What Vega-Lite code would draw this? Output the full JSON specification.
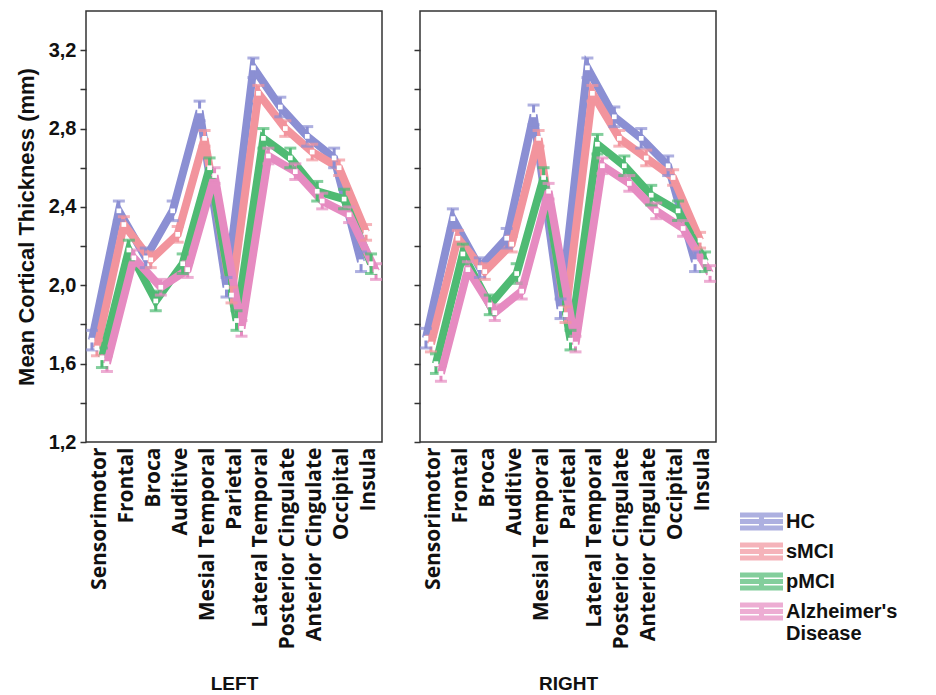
{
"$schema": "https://vega.github.io/schema/vega-lite/v6.json",
"background": "white",
"padding": {"left": 14, "top": 10, "right": 5, "bottom": 5},
"datasets": {"d": [
{"h":"LEFT","r":"Sensorimotor","g":"HC","m":1.72,"lo":1.67,"hi":1.77},
{"h":"LEFT","r":"Frontal","g":"HC","m":2.38,"lo":2.33,"hi":2.43},
{"h":"LEFT","r":"Broca","g":"HC","m":2.14,"lo":2.09,"hi":2.19},
{"h":"LEFT","r":"Auditive","g":"HC","m":2.38,"lo":2.33,"hi":2.43},
{"h":"LEFT","r":"Mesial Temporal","g":"HC","m":2.89,"lo":2.84,"hi":2.94},
{"h":"LEFT","r":"Parietal","g":"HC","m":1.99,"lo":1.94,"hi":2.04},
{"h":"LEFT","r":"Lateral Temporal","g":"HC","m":3.11,"lo":3.06,"hi":3.16},
{"h":"LEFT","r":"Posterior Cingulate","g":"HC","m":2.91,"lo":2.86,"hi":2.96},
{"h":"LEFT","r":"Anterior Cingulate","g":"HC","m":2.76,"lo":2.71,"hi":2.81},
{"h":"LEFT","r":"Occipital","g":"HC","m":2.65,"lo":2.60,"hi":2.70},
{"h":"LEFT","r":"Insula","g":"HC","m":2.12,"lo":2.07,"hi":2.17},
{"h":"LEFT","r":"Sensorimotor","g":"sMCI","m":1.68,"lo":1.64,"hi":1.72},
{"h":"LEFT","r":"Frontal","g":"sMCI","m":2.31,"lo":2.27,"hi":2.35},
{"h":"LEFT","r":"Broca","g":"sMCI","m":2.13,"lo":2.09,"hi":2.17},
{"h":"LEFT","r":"Auditive","g":"sMCI","m":2.26,"lo":2.22,"hi":2.30},
{"h":"LEFT","r":"Mesial Temporal","g":"sMCI","m":2.75,"lo":2.71,"hi":2.79},
{"h":"LEFT","r":"Parietal","g":"sMCI","m":1.95,"lo":1.91,"hi":1.99},
{"h":"LEFT","r":"Lateral Temporal","g":"sMCI","m":2.98,"lo":2.94,"hi":3.02},
{"h":"LEFT","r":"Posterior Cingulate","g":"sMCI","m":2.80,"lo":2.76,"hi":2.84},
{"h":"LEFT","r":"Anterior Cingulate","g":"sMCI","m":2.68,"lo":2.64,"hi":2.72},
{"h":"LEFT","r":"Occipital","g":"sMCI","m":2.60,"lo":2.56,"hi":2.64},
{"h":"LEFT","r":"Insula","g":"sMCI","m":2.27,"lo":2.23,"hi":2.31},
{"h":"LEFT","r":"Sensorimotor","g":"pMCI","m":1.63,"lo":1.58,"hi":1.68},
{"h":"LEFT","r":"Frontal","g":"pMCI","m":2.18,"lo":2.13,"hi":2.23},
{"h":"LEFT","r":"Broca","g":"pMCI","m":1.92,"lo":1.87,"hi":1.97},
{"h":"LEFT","r":"Auditive","g":"pMCI","m":2.11,"lo":2.06,"hi":2.16},
{"h":"LEFT","r":"Mesial Temporal","g":"pMCI","m":2.60,"lo":2.55,"hi":2.65},
{"h":"LEFT","r":"Parietal","g":"pMCI","m":1.82,"lo":1.77,"hi":1.87},
{"h":"LEFT","r":"Lateral Temporal","g":"pMCI","m":2.75,"lo":2.70,"hi":2.80},
{"h":"LEFT","r":"Posterior Cingulate","g":"pMCI","m":2.65,"lo":2.60,"hi":2.70},
{"h":"LEFT","r":"Anterior Cingulate","g":"pMCI","m":2.48,"lo":2.43,"hi":2.53},
{"h":"LEFT","r":"Occipital","g":"pMCI","m":2.44,"lo":2.39,"hi":2.49},
{"h":"LEFT","r":"Insula","g":"pMCI","m":2.11,"lo":2.06,"hi":2.16},
{"h":"LEFT","r":"Sensorimotor","g":"Alzheimer's Disease","m":1.60,"lo":1.56,"hi":1.64},
{"h":"LEFT","r":"Frontal","g":"Alzheimer's Disease","m":2.14,"lo":2.10,"hi":2.18},
{"h":"LEFT","r":"Broca","g":"Alzheimer's Disease","m":1.99,"lo":1.95,"hi":2.03},
{"h":"LEFT","r":"Auditive","g":"Alzheimer's Disease","m":2.08,"lo":2.04,"hi":2.12},
{"h":"LEFT","r":"Mesial Temporal","g":"Alzheimer's Disease","m":2.56,"lo":2.52,"hi":2.60},
{"h":"LEFT","r":"Parietal","g":"Alzheimer's Disease","m":1.78,"lo":1.74,"hi":1.82},
{"h":"LEFT","r":"Lateral Temporal","g":"Alzheimer's Disease","m":2.66,"lo":2.62,"hi":2.70},
{"h":"LEFT","r":"Posterior Cingulate","g":"Alzheimer's Disease","m":2.58,"lo":2.54,"hi":2.62},
{"h":"LEFT","r":"Anterior Cingulate","g":"Alzheimer's Disease","m":2.43,"lo":2.39,"hi":2.47},
{"h":"LEFT","r":"Occipital","g":"Alzheimer's Disease","m":2.36,"lo":2.32,"hi":2.40},
{"h":"LEFT","r":"Insula","g":"Alzheimer's Disease","m":2.07,"lo":2.03,"hi":2.11},
{"h":"RIGHT","r":"Sensorimotor","g":"HC","m":1.73,"lo":1.68,"hi":1.78},
{"h":"RIGHT","r":"Frontal","g":"HC","m":2.34,"lo":2.29,"hi":2.39},
{"h":"RIGHT","r":"Broca","g":"HC","m":2.09,"lo":2.04,"hi":2.14},
{"h":"RIGHT","r":"Auditive","g":"HC","m":2.24,"lo":2.19,"hi":2.29},
{"h":"RIGHT","r":"Mesial Temporal","g":"HC","m":2.87,"lo":2.82,"hi":2.92},
{"h":"RIGHT","r":"Parietal","g":"HC","m":1.88,"lo":1.83,"hi":1.93},
{"h":"RIGHT","r":"Lateral Temporal","g":"HC","m":3.11,"lo":3.06,"hi":3.16},
{"h":"RIGHT","r":"Posterior Cingulate","g":"HC","m":2.86,"lo":2.81,"hi":2.91},
{"h":"RIGHT","r":"Anterior Cingulate","g":"HC","m":2.75,"lo":2.70,"hi":2.80},
{"h":"RIGHT","r":"Occipital","g":"HC","m":2.61,"lo":2.56,"hi":2.66},
{"h":"RIGHT","r":"Insula","g":"HC","m":2.12,"lo":2.07,"hi":2.17},
{"h":"RIGHT","r":"Sensorimotor","g":"sMCI","m":1.70,"lo":1.66,"hi":1.74},
{"h":"RIGHT","r":"Frontal","g":"sMCI","m":2.24,"lo":2.20,"hi":2.28},
{"h":"RIGHT","r":"Broca","g":"sMCI","m":2.07,"lo":2.03,"hi":2.11},
{"h":"RIGHT","r":"Auditive","g":"sMCI","m":2.21,"lo":2.17,"hi":2.25},
{"h":"RIGHT","r":"Mesial Temporal","g":"sMCI","m":2.75,"lo":2.71,"hi":2.79},
{"h":"RIGHT","r":"Parietal","g":"sMCI","m":1.85,"lo":1.81,"hi":1.89},
{"h":"RIGHT","r":"Lateral Temporal","g":"sMCI","m":2.98,"lo":2.94,"hi":3.02},
{"h":"RIGHT","r":"Posterior Cingulate","g":"sMCI","m":2.75,"lo":2.71,"hi":2.79},
{"h":"RIGHT","r":"Anterior Cingulate","g":"sMCI","m":2.65,"lo":2.61,"hi":2.69},
{"h":"RIGHT","r":"Occipital","g":"sMCI","m":2.55,"lo":2.51,"hi":2.59},
{"h":"RIGHT","r":"Insula","g":"sMCI","m":2.23,"lo":2.19,"hi":2.27},
{"h":"RIGHT","r":"Sensorimotor","g":"pMCI","m":1.60,"lo":1.55,"hi":1.65},
{"h":"RIGHT","r":"Frontal","g":"pMCI","m":2.16,"lo":2.11,"hi":2.21},
{"h":"RIGHT","r":"Broca","g":"pMCI","m":1.90,"lo":1.85,"hi":1.95},
{"h":"RIGHT","r":"Auditive","g":"pMCI","m":2.06,"lo":2.01,"hi":2.11},
{"h":"RIGHT","r":"Mesial Temporal","g":"pMCI","m":2.55,"lo":2.50,"hi":2.60},
{"h":"RIGHT","r":"Parietal","g":"pMCI","m":1.72,"lo":1.67,"hi":1.77},
{"h":"RIGHT","r":"Lateral Temporal","g":"pMCI","m":2.72,"lo":2.67,"hi":2.77},
{"h":"RIGHT","r":"Posterior Cingulate","g":"pMCI","m":2.61,"lo":2.56,"hi":2.66},
{"h":"RIGHT","r":"Anterior Cingulate","g":"pMCI","m":2.46,"lo":2.41,"hi":2.51},
{"h":"RIGHT","r":"Occipital","g":"pMCI","m":2.38,"lo":2.33,"hi":2.43},
{"h":"RIGHT","r":"Insula","g":"pMCI","m":2.12,"lo":2.07,"hi":2.17},
{"h":"RIGHT","r":"Sensorimotor","g":"Alzheimer's Disease","m":1.55,"lo":1.51,"hi":1.59},
{"h":"RIGHT","r":"Frontal","g":"Alzheimer's Disease","m":2.08,"lo":2.04,"hi":2.12},
{"h":"RIGHT","r":"Broca","g":"Alzheimer's Disease","m":1.86,"lo":1.82,"hi":1.90},
{"h":"RIGHT","r":"Auditive","g":"Alzheimer's Disease","m":1.97,"lo":1.93,"hi":2.01},
{"h":"RIGHT","r":"Mesial Temporal","g":"Alzheimer's Disease","m":2.48,"lo":2.44,"hi":2.52},
{"h":"RIGHT","r":"Parietal","g":"Alzheimer's Disease","m":1.70,"lo":1.66,"hi":1.74},
{"h":"RIGHT","r":"Lateral Temporal","g":"Alzheimer's Disease","m":2.61,"lo":2.57,"hi":2.65},
{"h":"RIGHT","r":"Posterior Cingulate","g":"Alzheimer's Disease","m":2.52,"lo":2.48,"hi":2.56},
{"h":"RIGHT","r":"Anterior Cingulate","g":"Alzheimer's Disease","m":2.38,"lo":2.34,"hi":2.42},
{"h":"RIGHT","r":"Occipital","g":"Alzheimer's Disease","m":2.29,"lo":2.25,"hi":2.33},
{"h":"RIGHT","r":"Insula","g":"Alzheimer's Disease","m":2.06,"lo":2.02,"hi":2.10}
]},
"data": {"name": "d"},
"config": {
  "font": "Liberation Sans",
  "view": {"stroke": "#333333", "strokeWidth": 1.5},
  "axis": {"grid": false, "domain": false, "labelColor": "#111111", "titleColor": "#111111", "labelFontWeight": "bold", "titleFontWeight": "bold", "tickColor": "#333333", "tickWidth": 1.5},
  "concat": {"spacing": 16}
},
"hconcat": [
{
  "width": 296, "height": 431,
  "transform": [{"filter": "datum.h == 'LEFT'"}],
  "encoding": {
    "x": {"field": "r", "type": "nominal", "sort": ["Sensorimotor","Frontal","Broca","Auditive","Mesial Temporal","Parietal","Lateral Temporal","Posterior Cingulate","Anterior Cingulate","Occipital","Insula"], "scale": {"type": "point", "padding": 0.5}, "axis": {"title": "LEFT", "labelAngle": -90, "labelAlign": "right", "labelBaseline": "middle", "ticks": false, "labelFont": "Open Sans", "labelFontSize": 21, "labelPadding": 5, "titleFontSize": 19, "titlePadding": 32, "labelLimit": 300}},
    "xOffset": {"field": "g", "type": "nominal", "sort": ["HC","sMCI","pMCI","Alzheimer's Disease"], "scale": {"type": "point", "range": [-7.5, 7.5], "padding": 0}},
    "color": {"field": "g", "type": "nominal", "sort": ["HC","sMCI","pMCI","Alzheimer's Disease"], "scale": {"domain": ["HC","sMCI","pMCI","Alzheimer's Disease"], "range": ["#8b8fd3","#f2949d","#4fba73","#e68bc1"]},
      "legend": {"orient": "none", "legendX": 663, "legendY": 498, "title": null, "symbolType": "M-2.15,-0.65H2.15M-2.15,0H2.15M-2.15,0.65H2.15M0,-0.65V0.65", "symbolSize": 400, "symbolStrokeWidth": 5, "labelFontSize": 20, "labelFontWeight": "bold", "labelColor": "#111111", "rowPadding": -3, "labelOffset": 12, "labelLimit": 300,
        "labelExpr": "datum.label == \"Alzheimer's Disease\" ? [\"Alzheimer's\", \" Disease\"] : datum.label"}}
  },
  "layer": [
    {"mark": {"type": "line", "strokeWidth": 8}, "encoding": {"y": {"field": "m", "type": "quantitative", "scale": {"domain": [1.2, 3.4], "nice": false, "zero": false}, "axis": {"title": "Mean Cortical Thickness (mm)", "titleFontSize": 22, "titlePadding": 10, "values": [1.2,1.4,1.6,1.8,2.0,2.2,2.4,2.6,2.8,3.0,3.2], "labelFontSize": 20, "tickSize": 6, "labelPadding": 4, "labelExpr": "round(datum.value*10) % 4 == 0 ? replace(format(datum.value, '.1f'), '.', ',') : ''"}}}},
    {"mark": {"type": "rule", "strokeWidth": 3}, "encoding": {"y": {"field": "lo", "type": "quantitative"}, "y2": {"field": "hi"}}},
    {"mark": {"type": "tick", "thickness": 3, "size": 12}, "encoding": {"y": {"field": "lo", "type": "quantitative"}}},
    {"mark": {"type": "tick", "thickness": 3, "size": 12}, "encoding": {"y": {"field": "hi", "type": "quantitative"}}},
    {"mark": {"type": "square", "size": 22, "opacity": 1, "filled": true}, "encoding": {"y": {"field": "m", "type": "quantitative"}, "color": {"value": "white"}}}
  ]
},
{
  "width": 296, "height": 431,
  "transform": [{"filter": "datum.h == 'RIGHT'"}],
  "encoding": {
    "x": {"field": "r", "type": "nominal", "sort": ["Sensorimotor","Frontal","Broca","Auditive","Mesial Temporal","Parietal","Lateral Temporal","Posterior Cingulate","Anterior Cingulate","Occipital","Insula"], "scale": {"type": "point", "padding": 0.5}, "axis": {"title": "RIGHT", "labelAngle": -90, "labelAlign": "right", "labelBaseline": "middle", "ticks": false, "labelFont": "Open Sans", "labelFontSize": 21, "labelPadding": 5, "titleFontSize": 19, "titlePadding": 32, "labelLimit": 300}},
    "xOffset": {"field": "g", "type": "nominal", "sort": ["HC","sMCI","pMCI","Alzheimer's Disease"], "scale": {"type": "point", "range": [-7.5, 7.5], "padding": 0}},
    "color": {"field": "g", "type": "nominal", "sort": ["HC","sMCI","pMCI","Alzheimer's Disease"]}
  },
  "layer": [
    {"mark": {"type": "line", "strokeWidth": 8}, "encoding": {"y": {"field": "m", "type": "quantitative", "scale": {"domain": [1.2, 3.4], "nice": false, "zero": false}, "axis": {"title": null, "labels": false, "values": [1.2,1.4,1.6,1.8,2.0,2.2,2.4,2.6,2.8,3.0,3.2], "tickSize": 6}}}},
    {"mark": {"type": "rule", "strokeWidth": 3}, "encoding": {"y": {"field": "lo", "type": "quantitative"}, "y2": {"field": "hi"}}},
    {"mark": {"type": "tick", "thickness": 3, "size": 12}, "encoding": {"y": {"field": "lo", "type": "quantitative"}}},
    {"mark": {"type": "tick", "thickness": 3, "size": 12}, "encoding": {"y": {"field": "hi", "type": "quantitative"}}},
    {"mark": {"type": "square", "size": 22, "opacity": 1, "filled": true}, "encoding": {"y": {"field": "m", "type": "quantitative"}, "color": {"value": "white"}}}
  ]
}
]
}
